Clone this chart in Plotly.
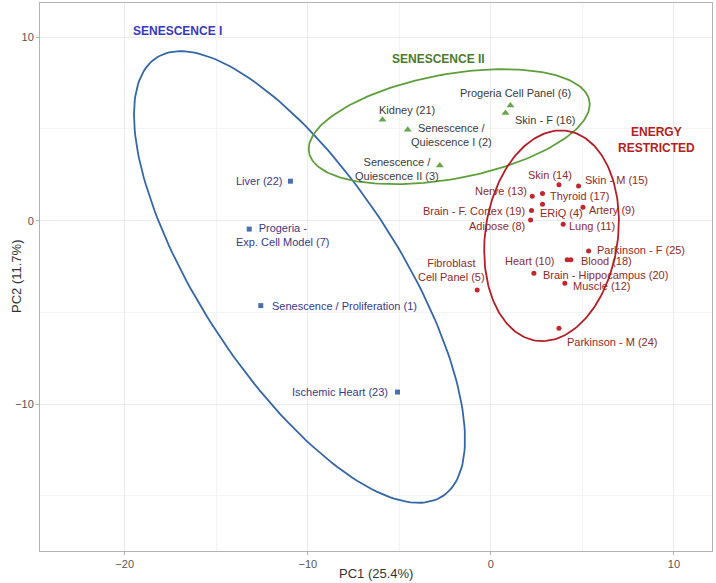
import numpy as np
import plotly.graph_objects as go

# ---------------- data ----------------
groups = ["SENESCENCE I", "SENESCENCE II", "ENERGY RESTRICTED"]

sen1_labels = ["Liver (22)", "Progeria -<br>Exp. Cell Model (7)",
               "Senescence / Proliferation (1)", "Ischemic Heart (23)"]
sen1_pc1 = [-10.95, -13.20, -12.57, -5.10]
sen1_pc2 = [2.15, -0.46, -4.63, -9.34]

sen2_labels = ["Kidney (21)", "Senescence /<br>Quiescence I (2)",
               "Senescence /<br>Quiescence II (3)", "Progeria Cell Panel (6)",
               "Skin - F (16)"]
sen2_pc1 = [-5.92, -4.54, -2.79, 1.07, 0.80]
sen2_pc2 = [5.50, 4.96, 3.00, 6.28, 5.86]

er_labels = ["Skin (14)", "Skin - M (15)", "Nerve (13)", "Thyroid (17)",
             "ERiQ (4)", "Brain - F. Cortex (19)", "Artery (9)", "Adipose (8)",
             "Lung (11)", "Parkinson - F (25)", "Heart (10)", "Blood (18)",
             "Brain - Hippocampus (20)", "Muscle (12)",
             "Fibroblast<br>Cell Panel (5)", "Parkinson - M (24)"]
er_pc1 = [3.72, 4.79, 2.26, 2.82, 2.82, 2.22, 5.03, 2.17,
          3.95, 5.34, 4.17, 4.37, 2.35, 4.04, -0.75, 3.72]
er_pc2 = [1.95, 1.89, 1.33, 1.48, 0.90, 0.55, 0.73, 0.03,
          -0.19, -1.66, -2.13, -2.13, -2.87, -3.41, -3.78, -5.86]

group_title_pos = {"SENESCENCE I": (-17.11, 10.33),
                   "SENESCENCE II": (-2.88, 8.82),
                   "ENERGY RESTRICTED": (9.05, 4.40)}

x_title = "PC1 (25.4%)"
y_title = "PC2 (11.7%)"
ellipse_prob = 0.95

# ---------------- styles / label placement (pixels) ----------------
sen1_off = [("right", -6, 0), ("center", 34, -6), ("left", 9, 0), ("right", -8, 0)]
sen2_off = [("center", 24, 10), ("center", 44, -5), ("center", -43, -3),
            ("center", 5, 12), ("left", 7, -7)]
er_off = [("center", -9, 10), ("left", 4, 6), ("right", -3, 5), ("left", 6, -2),
          ("left", -4, -9), ("right", -5, 0), ("left", 4, -3), ("right", -4, -6),
          ("left", 4, -2), ("left", 6, 1), ("right", -10, -1), ("left", 8, -1),
          ("left", 7, -2), ("left", 6, -3), ("center", -26, 20), ("left", 6, -14)]

style = {
    "SENESCENCE I": dict(ell="#3566A6", pt="#4A6FAE", txt="#38388A", title="#3838C0",
                         symbol="square", size=5),
    "SENESCENCE II": dict(ell="#5E9E3C", pt="#67A64A", txt="#3A3A3A", title="#4C7A2E",
                          symbol="triangle-up", size=7),
    "ENERGY RESTRICTED": dict(ell="#B31F26", pt="#C1272D", txt="#8E2A2A", title="#B22222",
                              symbol="circle", size=5),
}

FONT = "Liberation Sans, Arial, Helvetica, sans-serif"


def ellipse(x, y, prob, n=200):
    x = np.asarray(x, float)
    y = np.asarray(y, float)
    mu = np.array([x.mean(), y.mean()])
    sigma = np.cov(np.vstack([x, y]))
    # chi-square quantile with 2 dof: -2 ln(1-p)
    r = np.sqrt(-2.0 * np.log(1.0 - prob))
    L = np.linalg.cholesky(sigma)
    t = np.linspace(-np.pi, np.pi, n)
    circ = np.vstack([np.cos(t), np.sin(t)])
    pts = (L @ circ) * r + mu[:, None]
    return pts[0], pts[1]


fig = go.Figure()
data = {
    "SENESCENCE I": (sen1_pc1, sen1_pc2, sen1_labels, sen1_off),
    "SENESCENCE II": (sen2_pc1, sen2_pc2, sen2_labels, sen2_off),
    "ENERGY RESTRICTED": (er_pc1, er_pc2, er_labels, er_off),
}

for g in groups:
    xs, ys, _, _ = data[g]
    ex, ey = ellipse(xs, ys, ellipse_prob)
    fig.add_trace(go.Scatter(x=ex, y=ey, mode="lines",
                             line=dict(color=style[g]["ell"], width=1.8),
                             hoverinfo="skip", showlegend=False))

for g in groups:
    xs, ys, labs, _ = data[g]
    st = style[g]
    fig.add_trace(go.Scatter(x=xs, y=ys, mode="markers", text=labs,
                             marker=dict(color=st["pt"], symbol=st["symbol"], size=st["size"]),
                             showlegend=False))

annotations = []
for g in groups:
    xs, ys, labs, offs = data[g]
    st = style[g]
    for xv, yv, lab, (anc, dx, dy) in zip(xs, ys, labs, offs):
        annotations.append(dict(x=xv, y=yv, text=lab, showarrow=False,
                                xanchor=anc, yanchor="middle", xshift=dx, yshift=dy,
                                align="center",
                                font=dict(family=FONT, size=11, color=st["txt"])))
    tx, ty = group_title_pos[g]
    ttext = "ENERGY<br>RESTRICTED" if g == "ENERGY RESTRICTED" else g
    annotations.append(dict(x=tx, y=ty, text="<b>" + ttext + "</b>", showarrow=False,
                            xanchor="center", yanchor="middle", align="center",
                            font=dict(family=FONT, size=12, color=st["title"])))

# axis titles
annotations.append(dict(xref="paper", yref="paper", x=0.5, y=0, yshift=-22,
                        xanchor="center", yanchor="middle", showarrow=False,
                        text=x_title, font=dict(family=FONT, size=13, color="#333333")))
annotations.append(dict(xref="paper", yref="paper", x=0, y=0.5, xshift=-24,
                        xanchor="center", yanchor="middle", showarrow=False, textangle=-90,
                        text=y_title, font=dict(family=FONT, size=13, color="#333333")))

axis_common = dict(showline=True, linecolor="#B3B3B3", linewidth=1, mirror=True,
                   ticks="outside", ticklen=3, tickcolor="#B3B3B3",
                   showgrid=True, gridcolor="#EBEBEB", gridwidth=1,
                   zeroline=False, dtick=10, tick0=0, automargin=False,
                   tickfont=dict(family=FONT, size=11, color="#555555"),
                   minor=dict(dtick=5, tick0=0, showgrid=True, gridcolor="#F4F4F4",
                              ticks=""))

fig.update_layout(
    width=716, height=583,
    margin=dict(l=40, r=4, t=3, b=32),
    paper_bgcolor="white", plot_bgcolor="white",
    annotations=annotations,
    xaxis=dict(range=[-24.63, 12.08], **axis_common),
    yaxis=dict(range=[-18.0, 11.86], **axis_common),
)

fig.write_html("out.html",
               config={"displayModeBar": False},
               post_script="document.body.style.margin='0';document.body.style.padding='0';")
